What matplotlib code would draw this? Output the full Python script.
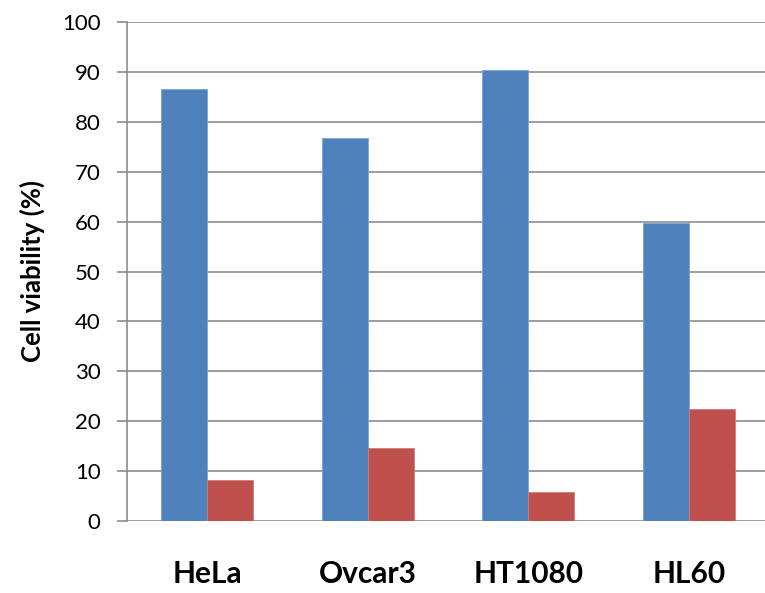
import matplotlib
matplotlib.use("Agg")
import matplotlib.pyplot as plt
import numpy as np

# Cell lines and viability (%) for the two treatment series
cell_lines = ["HeLa", "Ovcar3", "HT1080", "HL60"]
series_a = [86.6, 76.7, 90.4, 59.8]
series_b = [8.2, 14.6, 5.8, 22.4]
y_ticks = list(range(0, 101, 10))

blue = "#4F81BD"
red = "#C0504D"
grid_grey = "#8C8C8C"

plt.rcParams["font.family"] = ["Lato", "DejaVu Sans"]

fig = plt.figure(figsize=(7.65, 5.93), dpi=100)
ax = fig.add_axes([127 / 765, 1 - 521 / 593, 642 / 765, (521 - 22) / 593])

x = np.arange(len(cell_lines))
w = 0.2875
ax.bar(x - w / 2, series_a, width=w, color=blue, edgecolor="#7EA3D3",
       linewidth=0.6, zorder=3)
ax.bar(x + w / 2, series_b, width=w, color=red, edgecolor="#D27C7A",
       linewidth=0.6, zorder=3)

ax.set_xlim(-0.5, len(cell_lines) - 0.5)
ax.set_ylim(0, 100)
ax.set_yticks(y_ticks)
ax.set_yticklabels([str(t) for t in y_ticks], fontsize=16)
ax.yaxis.grid(True, color=grid_grey, linewidth=1.2, zorder=0)
ax.set_axisbelow(True)

ax.set_xticks(x)
ax.set_xticklabels(cell_lines, fontsize=21.5, fontweight="bold")
ax.tick_params(axis="x", length=0, pad=28)
ax.tick_params(axis="y", length=7, width=1.2, color=grid_grey, pad=12,
               direction="out")

for s in ["top", "right", "bottom"]:
    ax.spines[s].set_visible(False)
ax.spines["left"].set_color(grid_grey)
ax.spines["left"].set_linewidth(1.2)

ax.set_ylabel("Cell viability (%)", fontsize=18.5, fontweight="bold", labelpad=12)

fig.savefig("out.png", dpi=100)
